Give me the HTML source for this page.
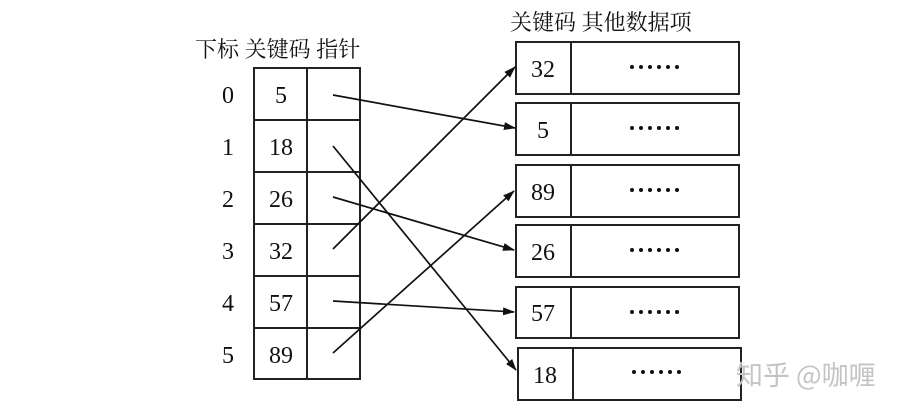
<!DOCTYPE html>
<html><head><meta charset="utf-8"><style>
html,body{margin:0;padding:0;background:#fff;}
svg{display:block}
text{font-family:"Liberation Serif","Noto Serif CJK SC",serif;fill:#111;}
.cn{font-family:"Noto Serif CJK SC","Noto Sans CJK SC",serif;}
</style></head><body>
<svg width="903" height="413" viewBox="0 0 903 413" xmlns="http://www.w3.org/2000/svg">
<defs><marker id="a" markerWidth="12" markerHeight="8" refX="11" refY="4" orient="auto" markerUnits="userSpaceOnUse"><path d="M0,0 L12,4 L0,8 Z" fill="#111"/></marker></defs>
<g stroke="#222" stroke-width="2" fill="none">
<rect x="254" y="68" width="106" height="311"/>
<line x1="307" y1="68" x2="307" y2="379"/>
<line x1="254" y1="120" x2="360" y2="120"/>
<line x1="254" y1="172" x2="360" y2="172"/>
<line x1="254" y1="224" x2="360" y2="224"/>
<line x1="254" y1="276" x2="360" y2="276"/>
<line x1="254" y1="328" x2="360" y2="328"/>
<rect x="516" y="42" width="223" height="52"/><line x1="571" y1="42" x2="571" y2="94"/>
<rect x="516" y="103" width="223" height="52"/><line x1="571" y1="103" x2="571" y2="155"/>
<rect x="516" y="165" width="223" height="52"/><line x1="571" y1="165" x2="571" y2="217"/>
<rect x="516" y="225" width="223" height="52"/><line x1="571" y1="225" x2="571" y2="277"/>
<rect x="516" y="287" width="223" height="51"/><line x1="571" y1="287" x2="571" y2="338"/>
<rect x="518" y="348" width="223" height="52"/><line x1="573" y1="348" x2="573" y2="400"/>
</g>
<g stroke="#111" stroke-width="1.7" fill="none" marker-end="url(#a)">
<line x1="333" y1="95" x2="515" y2="128"/>
<line x1="333" y1="146" x2="516" y2="370"/>
<line x1="333" y1="197" x2="514" y2="250"/>
<line x1="333" y1="249" x2="515" y2="67"/>
<line x1="333" y1="301" x2="514" y2="312"/>
<line x1="333" y1="353" x2="514" y2="191"/>
</g>
<g font-size="22" class="cn">
<text x="195" y="57" class="cn">下标 关键码  指针</text>
<text x="510" y="30" class="cn">关键码  其他数据项</text>
</g>
<g font-size="24" text-anchor="middle">
<text x="228" y="103">0</text><text x="228" y="155">1</text><text x="228" y="207">2</text>
<text x="228" y="259">3</text><text x="228" y="311">4</text><text x="228" y="363">5</text>
<text x="281" y="103">5</text><text x="281" y="155">18</text><text x="281" y="207">26</text>
<text x="281" y="259">32</text><text x="281" y="311">57</text><text x="281" y="363">89</text>
<text x="543" y="77">32</text><text x="543" y="138">5</text><text x="543" y="200">89</text>
<text x="543" y="260">26</text><text x="543" y="321">57</text><text x="545" y="383">18</text>
</g>
<g fill="#111">
<g id="d"><circle cx="632" cy="67" r="2"/><circle cx="641" cy="67" r="2"/><circle cx="650" cy="67" r="2"/><circle cx="659" cy="67" r="2"/><circle cx="668" cy="67" r="2"/><circle cx="677" cy="67" r="2"/></g>
<use href="#d" y="61"/><use href="#d" y="123"/><use href="#d" y="183"/><use href="#d" y="245"/><use href="#d" x="2" y="305"/>
</g>
<text x="736" y="385" font-size="27" style="font-family:'Noto Sans CJK SC',sans-serif;fill:#c4c4c4">知乎 @咖喱</text>
</svg>
</body></html>
